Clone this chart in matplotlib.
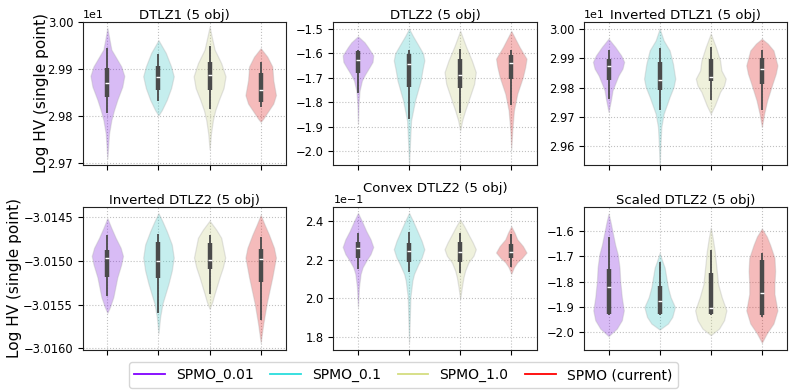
import colorsys
import numpy as np
import matplotlib
matplotlib.use("Agg")
import matplotlib.pyplot as plt
from matplotlib.lines import Line2D

methods = ["SPMO_0.01", "SPMO_0.1", "SPMO_1.0", "SPMO (current)"]
titles = ["DTLZ1 (5 obj)", "DTLZ2 (5 obj)", "Inverted DTLZ1 (5 obj)",
          "Inverted DTLZ2 (5 obj)", "Convex DTLZ2 (5 obj)", "Scaled DTLZ2 (5 obj)"]

# violin outlines: y values and relative density (px)
dtlz1_y = [
    [29.987, 29.941, 29.905, 29.885, 29.862, 29.834, 29.812, 29.791, 29.762, 29.709],
    [29.961, 29.934, 29.905, 29.884, 29.859, 29.834, 29.812, 29.801],
    [29.989, 29.941, 29.912, 29.884, 29.859, 29.834, 29.812, 29.791, 29.762, 29.729],
    [29.944, 29.926, 29.905, 29.876, 29.844, 29.826, 29.809, 29.794, 29.787],
]
dtlz1_d = [
    [0, 12, 42, 51, 45, 30, 20, 12, 5, 0],
    [0, 22, 38, 46, 38, 25, 10, 0],
    [0, 15, 35, 48, 42, 28, 17, 10, 4, 0],
    [0, 20, 35, 38, 46, 38, 22, 8, 0],
]
# whisker low, q1, median, q3, whisker high
dtlz1_box = [
    [29.807, 29.839, 29.870, 29.901, 29.944],
    [29.831, 29.856, 29.882, 29.907, 29.932],
    [29.815, 29.856, 29.886, 29.915, 29.948],
    [29.818, 29.829, 29.856, 29.892, 29.915],
]

dtlz2_y = [
    [-1.530, -1.555, -1.574, -1.608, -1.635, -1.656, -1.685, -1.711, -1.752, -1.800, -1.889],
    [-1.499, -1.530, -1.560, -1.600, -1.629, -1.670, -1.711, -1.793, -1.875, -1.958, -2.056],
    [-1.508, -1.574, -1.629, -1.677, -1.725, -1.766, -1.834, -1.875, -1.916],
    [-1.508, -1.574, -1.622, -1.656, -1.697, -1.766, -1.834, -1.916, -1.992],
]
dtlz2_d = [
    [0, 20, 30, 46, 44, 35, 22, 12, 5, 2, 0],
    [0, 12, 25, 42, 46, 40, 35, 18, 6, 3, 0],
    [0, 18, 35, 47, 42, 32, 15, 6, 0],
    [0, 25, 46, 42, 35, 18, 8, 3, 0],
]
dtlz2_box = [
    [-1.763, -1.679, -1.629, -1.592, -1.588],
    [-1.868, -1.736, -1.645, -1.601, -1.588],
    [-1.845, -1.741, -1.689, -1.625, -1.581],
    [-1.810, -1.705, -1.641, -1.608, -1.585],
]

inv1_y = [
    [29.966, 29.938, 29.909, 29.887, 29.864, 29.841, 29.813, 29.790, 29.756, 29.717],
    [30.000, 29.960, 29.926, 29.881, 29.830, 29.802, 29.768, 29.711, 29.666, 29.598, 29.530],
    [29.983, 29.938, 29.892, 29.858, 29.830, 29.807, 29.785, 29.739, 29.711],
    [29.966, 29.949, 29.926, 29.875, 29.847, 29.813, 29.756, 29.711, 29.666],
]
inv1_d = [
    [0, 20, 38, 47, 42, 30, 20, 12, 7, 0],
    [0, 12, 30, 40, 47, 42, 30, 12, 5, 2, 0],
    [0, 15, 28, 32, 45, 40, 28, 12, 0],
    [0, 18, 35, 47, 42, 32, 16, 7, 0],
]
inv1_box = [
    [29.760, 29.824, 29.874, 29.898, 29.926],
    [29.722, 29.793, 29.824, 29.887, 29.935],
    [29.759, 29.821, 29.836, 29.896, 29.938],
    [29.722, 29.813, 29.864, 29.901, 29.929],
]

inv2_y = [
    [-3.014508, -3.014621, -3.014734, -3.014848, -3.014942, -3.015037, -3.015188, -3.015415, -3.015528, -3.015596],
    [-3.014451, -3.014545, -3.014659, -3.014810, -3.014961, -3.015112, -3.015263, -3.015490, -3.015641, -3.015830],
    [-3.014538, -3.014640, -3.014734, -3.014961, -3.015074, -3.015188, -3.015377, -3.015471, -3.015547],
    [-3.014470, -3.014583, -3.014697, -3.014848, -3.014961, -3.015188, -3.015490, -3.015717, -3.015936],
]
inv2_d = [
    [0, 12, 25, 40, 47, 42, 30, 18, 8, 0],
    [0, 12, 25, 40, 46, 40, 30, 12, 5, 0],
    [0, 20, 35, 47, 40, 30, 15, 8, 0],
    [0, 12, 25, 40, 46, 35, 18, 8, 0],
]
inv2_box = [
    [-3.015407, -3.015180, -3.014969, -3.014874, -3.014704],
    [-3.015596, -3.015199, -3.014999, -3.014783, -3.014689],
    [-3.015377, -3.015093, -3.014991, -3.014791, -3.014704],
    [-3.015679, -3.015244, -3.014980, -3.014867, -3.014727],
]

convex_y = [
    [0.2443, 0.2400, 0.2349, 0.2306, 0.2266, 0.2229, 0.2194, 0.2160, 0.2126, 0.2057, 0.1954],
    [0.2443, 0.2400, 0.2349, 0.2297, 0.2254, 0.2211, 0.2177, 0.2126, 0.2091, 0.2006, 0.1886, 0.1769],
    [0.2409, 0.2374, 0.2331, 0.2289, 0.2254, 0.2220, 0.2186, 0.2143, 0.2109, 0.2057, 0.1997],
    [0.2374, 0.2340, 0.2306, 0.2271, 0.2237, 0.2208, 0.2186, 0.2160, 0.2126],
]
convex_d = [
    [0, 12, 25, 38, 46, 38, 25, 14, 8, 3, 0],
    [0, 12, 25, 38, 46, 38, 28, 15, 10, 4, 2, 0],
    [0, 12, 25, 38, 47, 40, 25, 15, 10, 5, 0],
    [0, 10, 18, 35, 46, 32, 18, 8, 0],
]
convex_box = [
    [0.2151, 0.2211, 0.2259, 0.2292, 0.2340],
    [0.2134, 0.2186, 0.2246, 0.2289, 0.2345],
    [0.2131, 0.2186, 0.2241, 0.2292, 0.2340],
    [0.2160, 0.2208, 0.2242, 0.2283, 0.2335],
]

scaled_y = [
    [-1.531, -1.564, -1.603, -1.655, -1.694, -1.745, -1.797, -1.862, -1.914, -1.953, -1.986, -2.016],
    [-1.687, -1.719, -1.745, -1.784, -1.823, -1.862, -1.901, -1.940, -1.966, -1.990],
    [-1.587, -1.629, -1.681, -1.758, -1.810, -1.862, -1.914, -1.953, -1.986, -2.012],
    [-1.590, -1.622, -1.655, -1.706, -1.758, -1.810, -1.849, -1.914, -1.966, -2.005, -2.042],
]
scaled_d = [
    [0, 6, 12, 20, 28, 33, 35, 40, 46, 40, 25, 0],
    [0, 8, 15, 20, 25, 33, 46, 38, 25, 0],
    [0, 6, 12, 18, 22, 33, 47, 40, 25, 0],
    [0, 15, 25, 38, 40, 38, 38, 47, 35, 15, 0],
]
scaled_box = [
    [-1.932, -1.930, -1.823, -1.752, -1.622],
    [-1.932, -1.930, -1.875, -1.817, -1.722],
    [-1.932, -1.930, -1.906, -1.765, -1.674],
    [-1.940, -1.934, -1.847, -1.713, -1.687],
]

ylims = [(29.696, 30.0), (-2.056, -1.471), (29.538, 30.023),
         (-3.01602, -3.01438), (0.1731, 0.2474), (-2.070, -1.505)]
yticks = [[29.7, 29.8, 29.9, 30.0], [-2.0, -1.9, -1.8, -1.7, -1.6, -1.5],
          [29.6, 29.7, 29.8, 29.9, 30.0], [-3.0160, -3.0155, -3.0150, -3.0145],
          [0.18, 0.20, 0.22, 0.24], [-2.0, -1.9, -1.8, -1.7, -1.6]]

panels = [(dtlz1_y, dtlz1_d, dtlz1_box), (dtlz2_y, dtlz2_d, dtlz2_box),
          (inv1_y, inv1_d, inv1_box), (inv2_y, inv2_d, inv2_box),
          (convex_y, convex_d, convex_box), (scaled_y, scaled_d, scaled_box)]

colors = plt.cm.rainbow(np.linspace(0, 1, 4))


def desat(c, prop=0.75):
    h, l, s = colorsys.rgb_to_hls(*c[:3])
    return colorsys.hls_to_rgb(h, l, s * prop)


fills = [desat(c) for c in colors]
px_per_unit = 154.0

fig, axes = plt.subplots(2, 3, figsize=(7.89, 3.9), dpi=100)
fig.subplots_adjust(left=0.105, right=0.998, top=0.944, bottom=0.103,
                    wspace=0.232, hspace=0.296)

for k, ax in enumerate(axes.flat):
    ys, ds, boxes = panels[k]
    stats = []
    widths = []
    for y, d, b in zip(ys, ds, boxes):
        stats.append(dict(coords=np.array(y), vals=np.array(d, float),
                          mean=b[2], median=b[2], min=min(y), max=max(y)))
        widths.append(2 * max(d) / px_per_unit)
    parts = ax.violin(stats, positions=range(4), widths=widths,
                      showmeans=False, showextrema=False, showmedians=False)
    for body, c in zip(parts["bodies"], fills):
        body.set_facecolor(c)
        body.set_alpha(0.3)
        body.set_edgecolor("#a8a8a8")
        body.set_linewidth(0.9)
    for i, b in enumerate(boxes):
        ax.vlines(i, b[0], b[4], color="#4a4a4a", lw=1.3, zorder=3)
        ax.vlines(i, b[1], b[3], color="#4a4a4a", lw=3.2, zorder=3)
        ax.scatter([i], [b[2]], marker="_", s=9, color="white", lw=1.0, zorder=4)
    ax.set_xlim(-0.48, 3.5)
    ax.set_ylim(*ylims[k])
    ax.set_yticks(yticks[k])
    ax.set_xticks(range(4))
    ax.set_xticklabels([])
    ax.ticklabel_format(axis="y", style="sci", scilimits=(0, 0), useOffset=False)
    ax.grid(True, ls=":", color="#c0c0c0", lw=0.8)
    ax.set_axisbelow(True)
    ax.tick_params(labelsize=8.3)
    ax.yaxis.get_offset_text().set_fontsize(8)
    for s in ax.spines.values():
        s.set_color("#222222")
    if k == 4:
        ax.set_title(titles[k], fontsize=9.5, pad=11, y=1.0)
    else:
        ax.set_title(titles[k], fontsize=9.5, pad=2, y=1.0)

axes[0, 0].set_ylabel("Log HV (single point)", fontsize=11)
axes[1, 0].set_ylabel("Log HV (single point)", fontsize=11)
axes[0, 0].yaxis.set_label_coords(-0.168, 0.5)
axes[1, 0].yaxis.set_label_coords(-0.298, 0.5)

handles = [Line2D([0], [0], color=c, lw=1.3) for c in colors]
fig.legend(handles, methods, loc="lower center", bbox_to_anchor=(0.511, -0.012),
           ncol=4, fontsize=10, handlelength=2.2, columnspacing=1.2)

fig.savefig("out.png", dpi=100)
